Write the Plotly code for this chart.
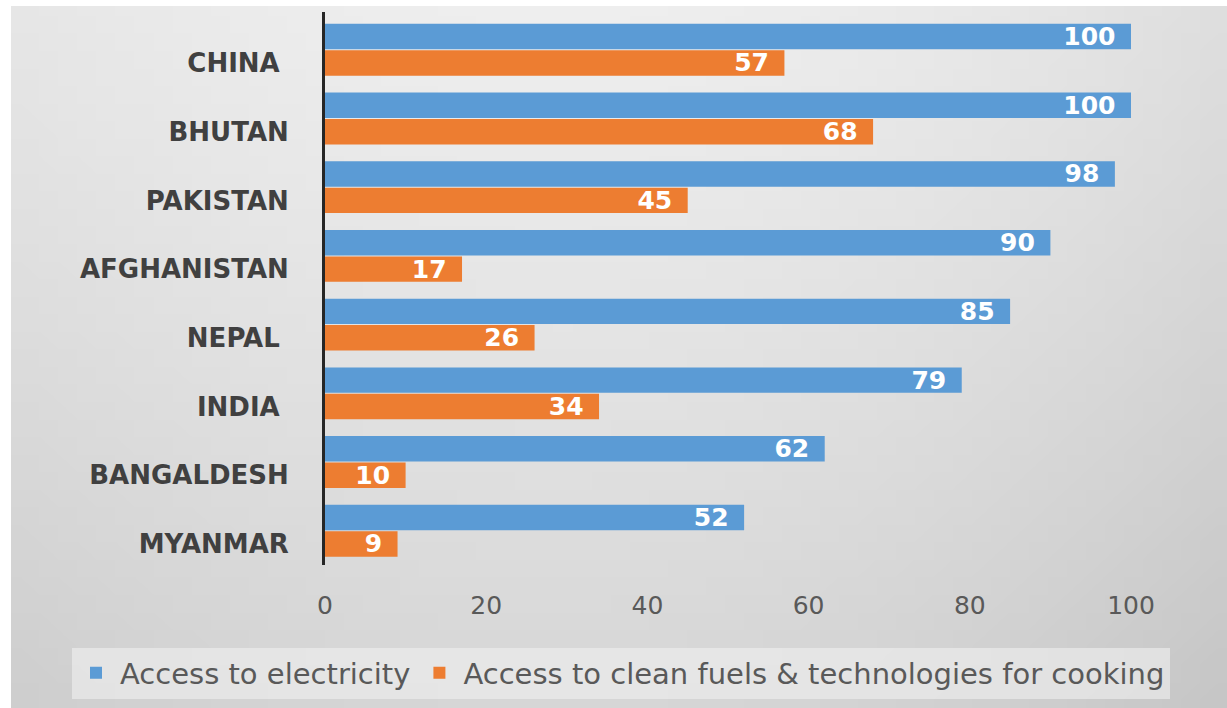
import base64
import struct
import zlib

import plotly.graph_objects as go

# ---------------- data ----------------
countries = ["CHINA", "BHUTAN", "PAKISTAN", "AFGHANISTAN", "NEPAL", "INDIA", "BANGALDESH", "MYANMAR"]
tick_labels = ["CHINA\u00a0", "BHUTAN", "PAKISTAN", "AFGHANISTAN", "NEPAL\u00a0", "INDIA\u00a0", "BANGALDESH", "MYANMAR"]
electricity = [100, 100, 98, 90, 85, 79, 62, 52]
clean_cooking = [57, 68, 45, 17, 26, 34, 10, 9]
x_ticks = [0, 20, 40, 60, 80, 100]
series_names = ["Access to electricity", "Access to clean fuels & technologies for cooking"]

BLUE = "#5b9bd5"
ORANGE = "#ed7d31"

# ---------------- background gradient (style only) ----------------
def gradient_png(w=64, h=40):
    rows = []
    for j in range(h):
        y = j / (h - 1)
        row = []
        for i in range(w):
            x = i / (w - 1)
            b = 238 - 24 * (y ** 1.2)
            if x > 0.45:
                b -= 16 * ((x - 0.45) / 0.55) ** 2
            else:
                b -= 8 * ((0.45 - x) / 0.45) ** 2
            v = max(0, min(255, int(round(b))))
            row += [v, v, v]
        rows.append(row)
    raw = b"".join(b"\x00" + bytes(r) for r in rows)

    def chunk(t, d):
        return struct.pack(">I", len(d)) + t + d + struct.pack(">I", zlib.crc32(t + d) & 0xFFFFFFFF)

    png = (b"\x89PNG\r\n\x1a\n"
           + chunk(b"IHDR", struct.pack(">IIBBBBB", w, h, 8, 2, 0, 0, 0))
           + chunk(b"IDAT", zlib.compress(raw))
           + chunk(b"IEND", b""))
    return "data:image/png;base64," + base64.b64encode(png).decode()

W, H = 1227, 708
ML, MR, MT, MB = 325, 96, 12, 143
pw, ph = W - ML - MR, H - MT - MB

def px_to_paper_x(px):
    return (px - ML) / pw

def px_to_paper_y(py):
    return (H - MB - py) / ph

fig = go.Figure()

label_font = dict(family="DejaVu Sans", size=25, color="white", weight="bold")

fig.add_trace(go.Bar(
    y=countries, x=electricity, orientation="h", name=series_names[0],
    marker=dict(color=BLUE, line=dict(width=0)),
    offset=0.2, width=0.37,
    text=electricity, texttemplate="%{x}\u2002", textposition="inside",
    insidetextanchor="end", constraintext="none",
    textfont=label_font,
))
fig.add_trace(go.Bar(
    y=countries, x=clean_cooking, orientation="h", name=series_names[1],
    marker=dict(color=ORANGE, line=dict(width=0)),
    offset=-0.185, width=0.37,
    text=clean_cooking, texttemplate="%{x}\u2002", textposition="inside",
    insidetextanchor="end", constraintext="none",
    textfont=label_font,
))

fig.update_layout(
    width=W, height=H,
    margin=dict(l=ML, r=MR, t=MT, b=MB, pad=0, autoexpand=False),
    paper_bgcolor="white",
    plot_bgcolor="rgba(0,0,0,0)",
    barmode="overlay",
    showlegend=True,
    legend=dict(
        orientation="h",
        xref="paper", yref="paper",
        x=px_to_paper_x(72), xanchor="left",
        y=px_to_paper_y(673), yanchor="middle",
        bgcolor="rgba(240,240,240,0.6)",
        font=dict(family="DejaVu Sans", size=29, color="#595959"),
        traceorder="normal",
        itemwidth=38,
    ),
    xaxis=dict(
        range=[0, 100], tickvals=x_ticks, showgrid=False, zeroline=False,
        showline=False, ticks="",
        tickfont=dict(family="DejaVu Sans", size=25, color="#595959"),
        ticklabelstandoff=23,
    ),
    yaxis=dict(
        type="category",
        categoryorder="array", categoryarray=countries[::-1],
        tickvals=countries, ticktext=tick_labels,
        range=[-0.306, 7.742],
        showgrid=False, zeroline=False,
        showline=True, linecolor="#262626", linewidth=3,
        ticks="",
        tickfont=dict(family="DejaVu Sans", size=26, color="#404040", weight="bold"),
        ticklabelstandoff=28,
    ),
    images=[dict(
        source=gradient_png(),
        xref="paper", yref="paper",
        x=px_to_paper_x(11), y=px_to_paper_y(6),
        sizex=(W - 11) / pw, sizey=(H - 6) / ph,
        xanchor="left", yanchor="top",
        sizing="stretch", layer="below",
    )],
)

fig.write_html("out.html")
